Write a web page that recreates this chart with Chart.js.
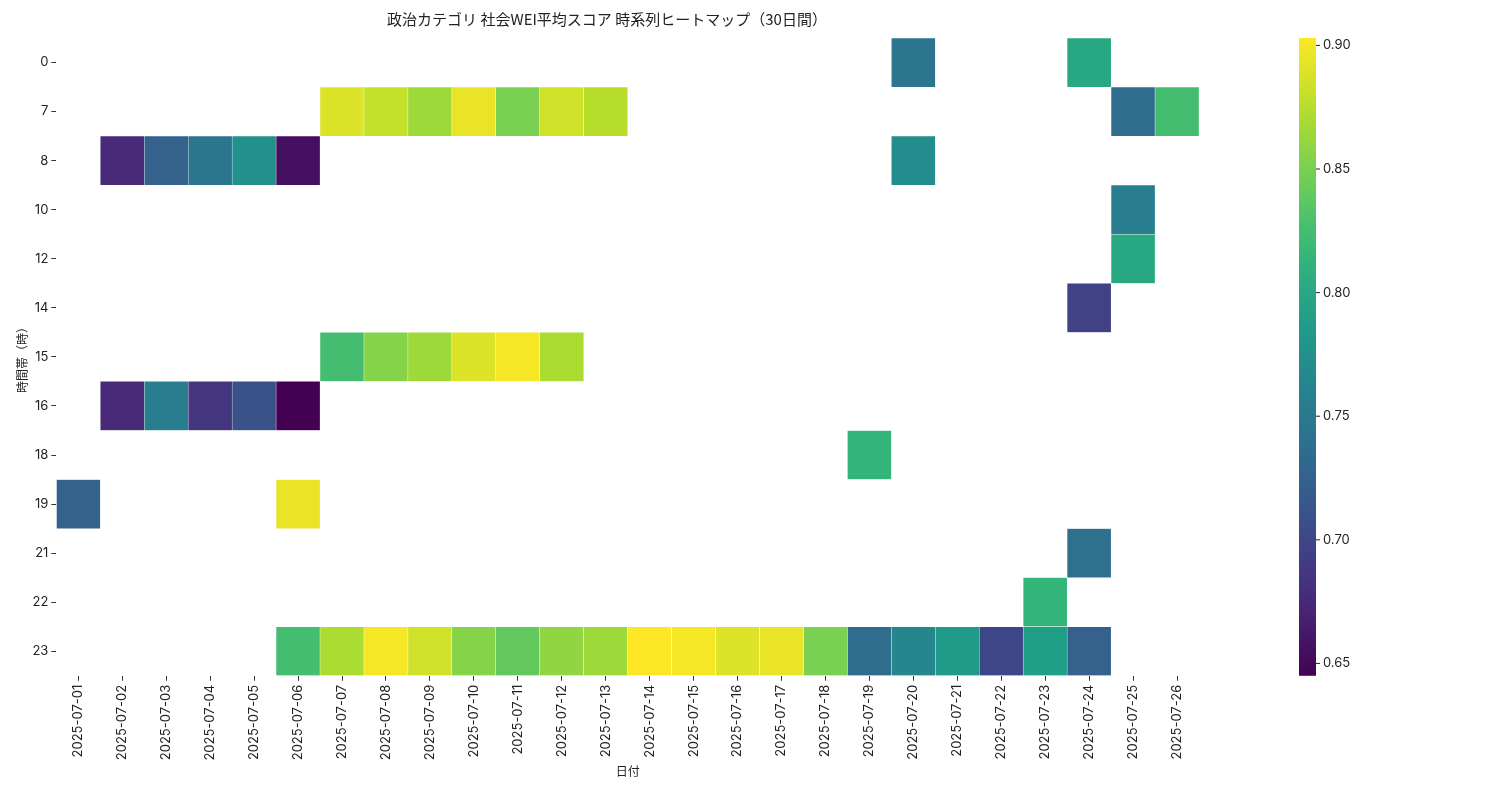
<!DOCTYPE html>
<html><head><meta charset="utf-8">
<script src="https://cdn.jsdelivr.net/npm/chart.js@4"></script>
<style>body{margin:0;background:#fff}#wrap{width:1500px;height:800px}</style>
</head><body><div id="wrap"><canvas id="c"></canvas></div>
<script>
const dates = ['2025-07-01','2025-07-02','2025-07-03','2025-07-04','2025-07-05','2025-07-06','2025-07-07','2025-07-08','2025-07-09','2025-07-10','2025-07-11','2025-07-12','2025-07-13','2025-07-14','2025-07-15','2025-07-16','2025-07-17','2025-07-18','2025-07-19','2025-07-20','2025-07-21','2025-07-22','2025-07-23','2025-07-24','2025-07-25','2025-07-26'];
const hours = ['0','7','8','10','12','14','15','16','18','19','21','22','23'];
// [hour, date, value]
const cells = [
  ['0','2025-07-20',0.745],['0','2025-07-24',0.80],
  ['7','2025-07-07',0.89],['7','2025-07-08',0.88],['7','2025-07-09',0.865],['7','2025-07-10',0.895],['7','2025-07-11',0.85],['7','2025-07-12',0.885],['7','2025-07-13',0.875],['7','2025-07-25',0.735],['7','2025-07-26',0.825],
  ['8','2025-07-02',0.675],['8','2025-07-03',0.725],['8','2025-07-04',0.745],['8','2025-07-05',0.775],['8','2025-07-06',0.655],['8','2025-07-20',0.77],
  ['10','2025-07-25',0.755],
  ['12','2025-07-25',0.80],
  ['14','2025-07-24',0.695],
  ['15','2025-07-07',0.825],['15','2025-07-08',0.855],['15','2025-07-09',0.865],['15','2025-07-10',0.89],['15','2025-07-11',0.90],['15','2025-07-12',0.87],
  ['16','2025-07-02',0.675],['16','2025-07-03',0.755],['16','2025-07-04',0.685],['16','2025-07-05',0.71],['16','2025-07-06',0.645],
  ['18','2025-07-19',0.815],
  ['19','2025-07-01',0.725],['19','2025-07-06',0.895],
  ['21','2025-07-24',0.74],
  ['22','2025-07-23',0.815],
  ['23','2025-07-06',0.825],['23','2025-07-07',0.87],['23','2025-07-08',0.90],['23','2025-07-09',0.885],['23','2025-07-10',0.855],['23','2025-07-11',0.84],['23','2025-07-12',0.86],['23','2025-07-13',0.865],['23','2025-07-14',0.903],['23','2025-07-15',0.90],['23','2025-07-16',0.89],['23','2025-07-17',0.895],['23','2025-07-18',0.85],['23','2025-07-19',0.735],['23','2025-07-20',0.765],['23','2025-07-21',0.785],['23','2025-07-22',0.70],['23','2025-07-23',0.79],['23','2025-07-24',0.725]
];
const vmin = 0.645, vmax = 0.903;
const cbTicks = [0.65,0.70,0.75,0.80,0.85,0.90];

const VIR = ['#440154','#482878','#3e4989','#31688e','#26828e','#1f9e89','#35b779','#6ece58','#b5de2b','#fde725'];
function hex(h){return [1,3,5].map(i=>parseInt(h.substr(i,2),16));}
function viridis(t){
  t = Math.max(0, Math.min(1, t));
  const p = t*(VIR.length-1), i = Math.min(Math.floor(p), VIR.length-2), f = p-i;
  const a = hex(VIR[i]), b = hex(VIR[i+1]);
  return 'rgb('+a.map((v,k)=>Math.round(v+(b[k]-v)*f)).join(',')+')';
}
const norm = v => (v-vmin)/(vmax-vmin);

const font = "'Noto Sans CJK JP', 'DejaVu Sans', sans-serif";
const tickFont = "Inter, 'Noto Sans', sans-serif";

const colorbar = {
  id: 'colorbar',
  afterDraw(chart) {
    const {ctx, chartArea:a} = chart;
    const x = 1299, w = 17, top = a.top, bot = a.bottom;
    const g = ctx.createLinearGradient(0, bot, 0, top);
    for (let i = 0; i <= 20; i++) g.addColorStop(i/20, viridis(i/20));
    ctx.save();
    ctx.fillStyle = g;
    ctx.fillRect(x, top, w, bot-top);
    ctx.fillStyle = '#222'; ctx.strokeStyle = '#222';
    ctx.font = '13px ' + tickFont; ctx.textBaseline = 'middle';
    cbTicks.forEach(t => {
      const y = bot - norm(t)*(bot-top);
      ctx.beginPath(); ctx.moveTo(x+w, y); ctx.lineTo(x+w+4, y); ctx.stroke();
      ctx.fillText(t.toFixed(2), x+w+7, y);
    });
    ctx.restore();
  }
};

new Chart(document.getElementById('c'), {
  type: 'bar',
  data: {
    labels: dates,
    datasets: [{
      data: cells.map(([h,d,v]) => { const i = hours.indexOf(h); return {x: d, y: [i-0.5, i+0.5], v}; }),
      backgroundColor: ctx => viridis(norm(ctx.raw.v)),
      borderColor: '#fff', borderWidth: 0.5, borderSkipped: false,
      barPercentage: 1, categoryPercentage: 1, grouped: false
    }]
  },
  options: {
    responsive: true, maintainAspectRatio: false, animation: false,
    layout: { padding: { top: 0, right: 301, bottom: 21, left: 15 } },
    plugins: {
      legend: { display: false }, tooltip: { enabled: false },
      title: { display: true, text: '政治カテゴリ 社会WEI平均スコア 時系列ヒートマップ（30日間）', color: '#222', font: { family: font, size: 15, weight: 'normal' }, padding: { top: 10, bottom: 10 } }
    },
    scales: {
      x: {
        grid: { offset: false, drawOnChartArea: false, drawTicks: true, tickLength: 5, color: '#333' }, border: { display: false },
        ticks: { color: '#222', font: { family: tickFont, size: 13 }, minRotation: 90, maxRotation: 90, padding: 4 },
        title: { display: true, text: '日付', color: '#222', font: { family: font, size: 12 }, padding: 0 }
      },
      y: {
        type: 'linear', reverse: true, min: -0.5, max: hours.length - 0.5,
        afterBuildTicks: s => { s.ticks = hours.map((_, i) => ({ value: i })); },
        grid: { drawOnChartArea: false, drawTicks: true, tickLength: 5, color: '#333' }, border: { display: false },
        ticks: { color: '#222', font: { family: tickFont, size: 13 }, callback: v => hours[v] },
        title: { display: true, text: '時間帯（時）', color: '#222', font: { family: font, size: 12 }, padding: 0 }
      }
    }
  },
  plugins: [colorbar]
});
</script></body></html>
